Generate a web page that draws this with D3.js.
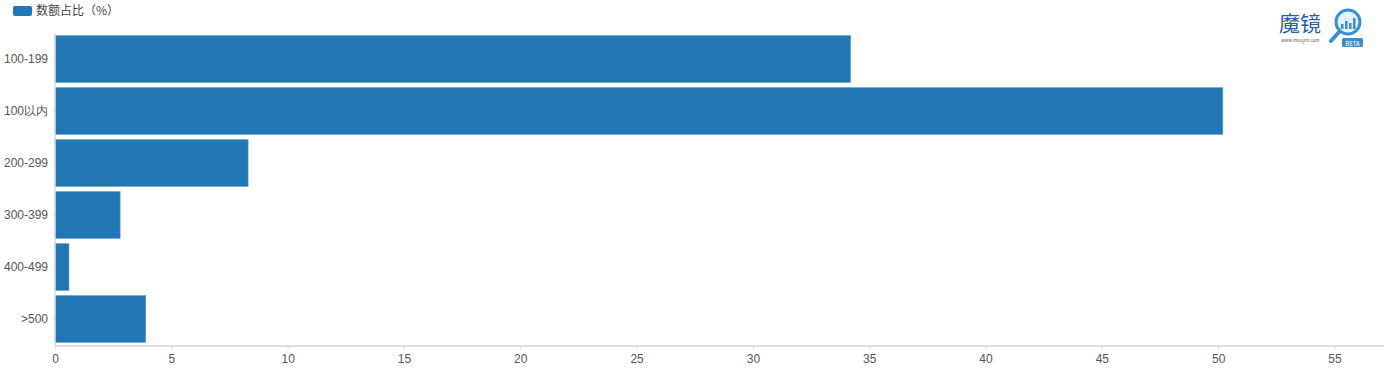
<!DOCTYPE html>
<html><head><meta charset="utf-8">
<script src="https://cdn.jsdelivr.net/npm/d3@7"></script>
<style>body{margin:0;background:#fff;}svg{display:block;font-family:"Microsoft YaHei","Noto Sans CJK SC","Open Sans",sans-serif;}</style>
</head><body>
<svg id="c" width="1384" height="379"></svg>
<script>
const categories = ["100-199","100以内","200-299","300-399","400-499",">500"];
const values = [34.2, 50.2, 8.3, 2.8, 0.6, 3.9];
const xTicks = [0,5,10,15,20,25,30,35,40,45,50,55];
const seriesName = "数额占比（%）";

const svg = d3.select("#c");
const color = "#2077b4";
const x = d3.scaleLinear().domain([0,57]).range([55,1381]);
const y = d3.scaleBand().domain(categories).range([33,345]).paddingInner(0.1).paddingOuter(0.05);

// bars
svg.append("g").selectAll("rect").data(values).join("rect")
  .attr("x", x(0)).attr("y",(d,i)=>y(categories[i]))
  .attr("width", d=>x(d)-x(0)).attr("height", y.bandwidth())
  .attr("fill", color).attr("stroke","#5c9fd2").attr("stroke-width",0.6);

// x axis
const gx = svg.append("g").attr("transform","translate(0,346)")
  .call(d3.axisBottom(x).tickValues(xTicks).tickSize(4).tickPadding(4).tickSizeOuter(0));
gx.select(".domain").attr("stroke","#ddd").attr("stroke-width",2).attr("d","M55,0H1384");
gx.selectAll(".tick line").attr("stroke","#ddd");
gx.selectAll("text").attr("fill","#555").attr("font-size",12);

// y axis
const gy = svg.append("g").attr("transform","translate(55,0)")
  .call(d3.axisLeft(y).tickSize(3).tickPadding(4).tickSizeOuter(0));
gy.select(".domain").attr("stroke","#ddd").attr("stroke-width",1.5).attr("d","M0,33V346");
gy.selectAll(".tick line").attr("stroke","#ddd");
gy.selectAll("text").attr("fill","#555").attr("font-size",12);

// legend
svg.append("rect").attr("x",13).attr("y",6).attr("width",19).attr("height",10).attr("rx",2).attr("fill",color);
svg.append("text").attr("x",36).attr("y",15).attr("font-size",12).attr("fill","#444").text(seriesName);

// logo
const lg = svg.append("g");
lg.append("text").attr("x",1279).attr("y",31).attr("font-size",21).attr("fill","#2a5fa8").text("魔镜");
lg.append("text").attr("x",1281).attr("y",42).attr("font-size",4.5).attr("fill","#555").text("www.moojnn.com");
lg.append("line").attr("x1",1339).attr("y1",32).attr("x2",1331).attr("y2",41).attr("stroke","#3a8fcf").attr("stroke-width",4).attr("stroke-linecap","round");
lg.append("circle").attr("cx",1348).attr("cy",22).attr("r",12).attr("fill","#e3f2fb").attr("stroke","#3a8fcf").attr("stroke-width",3);
[[1341,5],[1345,8],[1349,6],[1353,11]].forEach(([bx,h])=>lg.append("rect").attr("x",bx).attr("y",29-h).attr("width",2.5).attr("height",h).attr("fill","#3a8fcf"));
lg.append("rect").attr("x",1342).attr("y",38).attr("width",21).attr("height",9).attr("rx",1.5).attr("fill","#3a8fcf");
lg.append("text").attr("x",1352.5).attr("y",45.5).attr("text-anchor","middle").attr("font-size",6).attr("fill","#fff").text("BETA");
</script>
</body></html>
